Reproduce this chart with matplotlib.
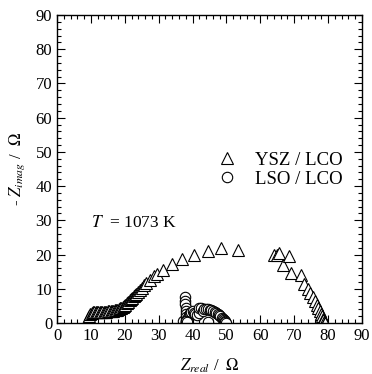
import numpy as np
import matplotlib
matplotlib.use('Agg')
import matplotlib.pyplot as plt
from matplotlib.ticker import MultipleLocator

plt.rcParams['font.family'] = ['Liberation Serif', 'DejaVu Serif']
plt.rcParams['mathtext.fontset'] = 'stix'
plt.rcParams['font.size'] = 12

# YSZ / LCO (triangles)
ysz_x = [9.0, 9.4, 9.8, 10.2, 10.6, 11.0, 11.4, 11.8, 12.2, 12.6, 13.0, 13.4, 13.8,
         14.2, 14.6, 15.0, 15.4, 15.8, 16.2, 16.6, 17.0, 17.4, 17.8, 18.2, 18.6,
         19.0, 19.4, 19.8, 20.2, 20.6, 21.0, 21.4, 21.8, 22.2, 22.6, 23.0, 23.4,
         23.9, 24.4, 25.0, 25.6, 26.3, 27.3, 28.5, 29.5, 31.2, 34.0, 37.0, 40.5,
         44.5, 48.5, 53.5, 64.0, 64.8, 65.5, 66.8, 68.5, 69.0, 72.0, 73.0, 74.0,
         74.8, 75.6, 76.2, 76.7, 77.1, 77.5, 77.8, 78.1, 78.4, 78.6, 78.8, 79.0, 79.2]
ysz_y = [1.5, 2.1, 2.6, 2.9, 3.1, 3.2, 3.3, 3.3, 3.3, 3.3, 3.3, 3.3, 3.3,
         3.3, 3.3, 3.4, 3.4, 3.5, 3.5, 3.6, 3.7, 3.8, 3.9, 4.1, 4.3,
         4.5, 4.8, 5.1, 5.4, 5.8, 6.2, 6.6, 7.0, 7.4, 7.8, 8.2, 8.6,
         9.1, 9.6, 10.3, 11.0, 11.8, 12.5, 13.8, 14.2, 15.5, 17.2, 18.8, 20.0,
         21.0, 22.0, 21.2, 20.0, 19.8, 20.5, 17.0, 19.5, 14.5, 14.0, 11.5, 10.0,
         8.8, 7.5, 6.3, 5.2, 4.3, 3.4, 2.6, 1.9, 1.3, 0.8, 0.4, 0.1, 0.0]

# LSO / LCO (circles)
lso_x = [37.3, 37.7, 37.8, 37.9, 38.0, 38.0, 38.0, 38.0, 38.0, 38.0, 38.1, 38.2,
         38.3, 38.5, 38.7, 39.0, 39.3, 39.6, 40.0, 40.4, 40.8, 41.2, 41.8, 42.0,
         42.5, 43.0, 43.5, 44.0, 44.5, 45.0, 45.5, 46.0, 46.5, 47.0, 47.4, 47.8,
         48.2, 48.6, 48.9, 49.2, 49.5, 49.7, 49.9, 44.5, 38.2, 38.4]
lso_y = [0.5, 7.5, 6.5, 5.5, 4.5, 3.5, 2.5, 1.8, 1.0, 0.3, 0.0, 0.2,
         0.6, 1.0, 1.6, 2.2, 2.8, 3.2, 3.4, 3.0, 2.5, 2.2, 2.8, 4.5,
         4.3, 3.5, 4.2, 4.0, 4.0, 3.9, 3.7, 3.5, 3.3, 3.0, 2.7, 2.4,
         2.0, 1.6, 1.2, 0.8, 0.5, 0.2, 0.0, 0.2, 0.5, 0.3]

fig = plt.figure(figsize=(3.72, 3.74), dpi=100)
ax = fig.add_axes([57/372, 1 - 323/374, 305/372, 308/374])

ax.plot(ysz_x, ysz_y, linestyle='none', marker='^', markersize=8.5,
        markerfacecolor='white', markeredgecolor='black', markeredgewidth=0.8,
        label='YSZ / LCO')
ax.plot(lso_x, lso_y, linestyle='none', marker='o', markersize=7.5,
        markerfacecolor='white', markeredgecolor='black', markeredgewidth=0.8,
        label='LSO / LCO')

ax.set_xlim(0, 90)
ax.set_ylim(0, 90)
ax.xaxis.set_major_locator(MultipleLocator(10))
ax.yaxis.set_major_locator(MultipleLocator(10))
ax.xaxis.set_minor_locator(MultipleLocator(2))
ax.yaxis.set_minor_locator(MultipleLocator(2))
ax.tick_params(which='both', direction='in', top=True, right=True, labelsize=12)
ax.tick_params(which='major', length=6, width=0.8)
ax.tick_params(which='minor', length=3, width=0.8)
for s in ax.spines.values():
    s.set_linewidth(1.0)

ax.set_xlabel(r'$Z_{real}$ /  $\Omega$', fontsize=12, labelpad=9)
ax.set_ylabel(r'- $Z_{imag}$ /  $\Omega$', fontsize=12, labelpad=6)

ax.text(10, 28, r'$T$  = 1073 K', fontsize=12.5)

ax.legend(loc='center right', bbox_to_anchor=(0.96, 0.497), frameon=False,
          fontsize=13.5, handletextpad=0.5, labelspacing=0.1, borderaxespad=0)

fig.savefig('out.png', dpi=100)
